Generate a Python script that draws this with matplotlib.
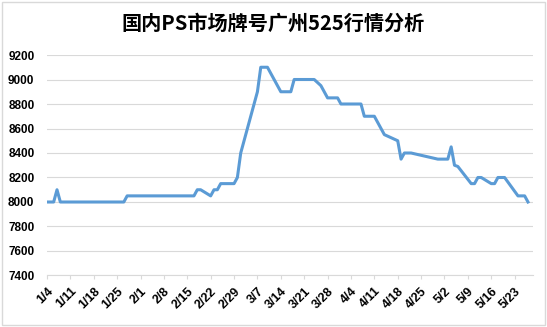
import matplotlib
matplotlib.use("Agg")
import matplotlib.pyplot as plt
import pandas as pd
from matplotlib.patches import Rectangle

# 2016 price series
dates = ["2016-01-04", "2016-01-06", "2016-01-07", "2016-01-08", "2016-01-27",
         "2016-01-28", "2016-02-17", "2016-02-18", "2016-02-19", "2016-02-22",
         "2016-02-23", "2016-02-24", "2016-02-25", "2016-02-29", "2016-03-01",
         "2016-03-02", "2016-03-07", "2016-03-08", "2016-03-10", "2016-03-14",
         "2016-03-17", "2016-03-18", "2016-03-24", "2016-03-26", "2016-03-28",
         "2016-03-31", "2016-04-01", "2016-04-07", "2016-04-08", "2016-04-11",
         "2016-04-14", "2016-04-18", "2016-04-19", "2016-04-20", "2016-04-22",
         "2016-04-30", "2016-05-03", "2016-05-04", "2016-05-05", "2016-05-06",
         "2016-05-10", "2016-05-11", "2016-05-12", "2016-05-13", "2016-05-16",
         "2016-05-17", "2016-05-18", "2016-05-20", "2016-05-24", "2016-05-26",
         "2016-05-27"]
prices = [8000, 8000, 8100, 8000, 8000,
          8050, 8050, 8100, 8100, 8050,
          8100, 8100, 8150, 8150, 8200,
          8400, 8900, 9100, 9100, 8900,
          8900, 9000, 9000, 8950, 8850,
          8850, 8800, 8800, 8700, 8700,
          8550, 8500, 8350, 8400, 8400,
          8350, 8350, 8450, 8300, 8290,
          8150, 8150, 8200, 8200, 8150,
          8150, 8200, 8200, 8050, 8050,
          8000]
tick_labels = ["1/4", "1/11", "1/18", "1/25", "2/1", "2/8", "2/15", "2/22",
               "2/29", "3/7", "3/14", "3/21", "3/28", "4/4", "4/11", "4/18",
               "4/25", "5/2", "5/9", "5/16", "5/23"]
y_ticks = [7400, 7600, 7800, 8000, 8200, 8400, 8600, 8800, 9000, 9200]
title = "国内PS市场牌号广州525行情分析"

start = pd.Timestamp("2016-01-04")
days = [(pd.Timestamp(d) - start).days for d in dates]
tick_pos = [7 * i for i in range(len(tick_labels))]

fig = plt.figure(figsize=(5.47, 3.27), dpi=100)
ax = fig.add_axes([0.0859, 0.1575, 0.8885, 0.6743])

ax.plot(days, prices, color="#5B9BD5", linewidth=2.2, solid_joinstyle="round")

ax.set_xlim(0, 145.5)
ax.set_ylim(7400, 9200)
ax.set_yticks(y_ticks)
ax.set_yticklabels([str(v) for v in y_ticks], fontfamily="Liberation Sans",
                   fontweight="bold", fontsize=8.5)
ax.set_xticks(tick_pos)
ax.set_xticklabels(tick_labels, rotation=45, ha="right", va="top",
                   rotation_mode="anchor", fontfamily="Liberation Sans",
                   fontweight="bold", fontsize=9)

ax.grid(axis="y", color="#D9D9D9", linewidth=0.8)
ax.set_axisbelow(True)
for s in ["top", "right", "left"]:
    ax.spines[s].set_visible(False)
ax.spines["bottom"].set_color("#D9D9D9")
ax.spines["bottom"].set_linewidth(0.8)
ax.tick_params(axis="y", length=0, pad=9)
ax.tick_params(axis="x", length=3, color="#D9D9D9", pad=4)

fig.text(0.5, 0.93, title, ha="center", va="center", fontsize=14.5,
         fontweight="bold", family=["Noto Sans CJK SC", "DejaVu Sans"])

# chart border
fig.patches.append(Rectangle((0.004, 0.006), 0.992, 0.988, transform=fig.transFigure,
                             fill=False, edgecolor="#D9D9D9", linewidth=1))

fig.savefig("out.png", dpi=100)
